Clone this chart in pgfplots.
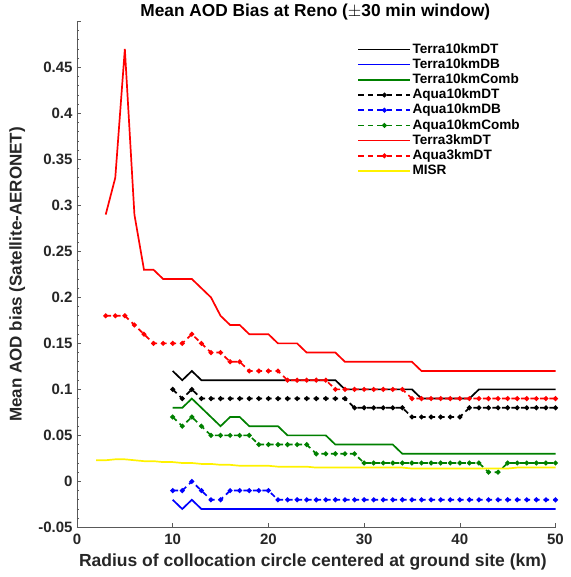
\documentclass[border=0pt]{standalone}
\usepackage{fontspec}
\setmainfont{Liberation Sans}
\usepackage{pgfplots}
\pgfplotsset{compat=1.18}
\definecolor{mgreen}{rgb}{0,0.5,0}
\definecolor{axgray}{gray}{0.35}
\begin{document}
\begin{tikzpicture}
\begin{axis}[
  scale only axis, width=478.5pt, height=506pt,
  xmin=0, xmax=50, ymin=-0.05, ymax=0.5,
  axis x line*=bottom, axis y line*=left,
  axis line style={axgray, line width=0.6pt},
  tick align=inside, major tick length=4pt, minor tick length=2.5pt,
  every tick/.style={axgray, line width=0.6pt},
  xtick={0,10,20,30,40,50},
  xticklabels={0,10,20,30,40,50},
  ytick={-0.05,0,0.05,0.1,0.15,0.2,0.25,0.3,0.35,0.4,0.45,0.5},
  yticklabels={-0.05,0,0.05,0.1,0.15,0.2,0.25,0.3,0.35,0.4,0.45,{}},
  minor y tick num=4,
  tick label style={font=\bfseries\fontsize{15}{18}\selectfont, text=black!85},
  xticklabel style={yshift=-3pt},
  yticklabel style={xshift=-1pt},
  xlabel={Radius of collocation circle centered at ground site (km)},
  ylabel={Mean AOD bias (Satellite-AERONET)},
  title={Mean AOD Bias at Reno ($\pm$30 min window)},
  every axis x label/.style={at={(axis description cs:0.493,-0.068)}, anchor=center, font=\bfseries\fontsize{17.5}{20}\selectfont, text=black!85},
  every axis y label/.style={at={(axis description cs:-0.125,0.5)}, rotate=90, anchor=center, font=\bfseries\fontsize{17}{20}\selectfont, text=black!85},
  every axis title/.style={at={(axis description cs:0.498,1.019)}, anchor=center, font=\bfseries\fontsize{17.3}{20}\selectfont},
  legend style={draw=none, fill=none, at={(axis cs:29.3,0.478)}, anchor=north west,
    font=\bfseries\fontsize{13.6}{16}\selectfont, row sep=0pt, inner sep=0pt,
    nodes={inner sep=1.2pt, text height=10pt, text depth=2.8pt},
    /tikz/every even column/.append style={column sep=8pt}},
  legend cell align=left,
  legend image code/.code={\draw[mark repeat=2,mark phase=2,#1] plot coordinates {(0pt,0pt) (26pt,0pt) (52pt,0pt)};},
  clip=false,
]
% Terra10kmDT
\addplot[black, line width=1.7pt] coordinates {(10,0.12)(11,0.11)(12,0.12)(13,0.11)(14,0.11)(15,0.11)(16,0.11)(17,0.11)(18,0.11)(19,0.11)(20,0.11)(21,0.11)(22,0.11)(23,0.11)(24,0.11)(25,0.11)(26,0.11)(27,0.11)(28,0.10)(29,0.10)(30,0.10)(31,0.10)(32,0.10)(33,0.10)(34,0.10)(35,0.10)(36,0.09)(37,0.09)(38,0.09)(39,0.09)(40,0.09)(41,0.09)(42,0.10)(43,0.10)(44,0.10)(45,0.10)(46,0.10)(47,0.10)(48,0.10)(49,0.10)(50,0.10)};
\addlegendentry{Terra10kmDT}
% Terra10kmDB
\addplot[blue, line width=1.7pt] coordinates {(10,-0.02)(11,-0.03)(12,-0.02)(13,-0.03)(14,-0.03)(15,-0.03)(16,-0.03)(17,-0.03)(18,-0.03)(19,-0.03)(20,-0.03)(21,-0.03)(22,-0.03)(23,-0.03)(24,-0.03)(25,-0.03)(26,-0.03)(27,-0.03)(28,-0.03)(29,-0.03)(30,-0.03)(31,-0.03)(32,-0.03)(33,-0.03)(34,-0.03)(35,-0.03)(36,-0.03)(37,-0.03)(38,-0.03)(39,-0.03)(40,-0.03)(41,-0.03)(42,-0.03)(43,-0.03)(44,-0.03)(45,-0.03)(46,-0.03)(47,-0.03)(48,-0.03)(49,-0.03)(50,-0.03)};
\addlegendentry{Terra10kmDB}
% Terra10kmComb
\addplot[mgreen, line width=1.7pt] coordinates {(10,0.08)(11,0.08)(12,0.09)(13,0.08)(14,0.07)(15,0.06)(16,0.07)(17,0.07)(18,0.06)(19,0.06)(20,0.06)(21,0.06)(22,0.05)(23,0.05)(24,0.05)(25,0.05)(26,0.05)(27,0.04)(28,0.04)(29,0.04)(30,0.04)(31,0.04)(32,0.04)(33,0.04)(34,0.03)(35,0.03)(36,0.03)(37,0.03)(38,0.03)(39,0.03)(40,0.03)(41,0.03)(42,0.03)(43,0.03)(44,0.03)(45,0.03)(46,0.03)(47,0.03)(48,0.03)(49,0.03)(50,0.03)};
\addlegendentry{Terra10kmComb}
% Aqua10kmDT
\addplot[black, line width=1.7pt, dash pattern=on 5.5pt off 4pt, mark=*, mark size=1.5pt, mark options={solid}] coordinates {(10,0.10)(11,0.09)(12,0.10)(13,0.09)(14,0.09)(15,0.09)(16,0.09)(17,0.09)(18,0.09)(19,0.09)(20,0.09)(21,0.09)(22,0.09)(23,0.09)(24,0.09)(25,0.09)(26,0.09)(27,0.09)(28,0.09)(29,0.08)(30,0.08)(31,0.08)(32,0.08)(33,0.08)(34,0.08)(35,0.07)(36,0.07)(37,0.07)(38,0.07)(39,0.07)(40,0.07)(41,0.08)(42,0.08)(43,0.08)(44,0.08)(45,0.08)(46,0.08)(47,0.08)(48,0.08)(49,0.08)(50,0.08)};
\addlegendentry{Aqua10kmDT}
% Aqua10kmDB
\addplot[blue, line width=1.7pt, dash pattern=on 5.5pt off 4pt, mark=*, mark size=1.5pt, mark options={solid}] coordinates {(10,-0.01)(11,-0.01)(12,0.00)(13,-0.01)(14,-0.02)(15,-0.02)(16,-0.01)(17,-0.01)(18,-0.01)(19,-0.01)(20,-0.01)(21,-0.02)(22,-0.02)(23,-0.02)(24,-0.02)(25,-0.02)(26,-0.02)(27,-0.02)(28,-0.02)(29,-0.02)(30,-0.02)(31,-0.02)(32,-0.02)(33,-0.02)(34,-0.02)(35,-0.02)(36,-0.02)(37,-0.02)(38,-0.02)(39,-0.02)(40,-0.02)(41,-0.02)(42,-0.02)(43,-0.02)(44,-0.02)(45,-0.02)(46,-0.02)(47,-0.02)(48,-0.02)(49,-0.02)(50,-0.02)};
\addlegendentry{Aqua10kmDB}
% Aqua10kmComb
\addplot[mgreen, line width=1.7pt, dash pattern=on 5.5pt off 4pt, mark=*, mark size=1.5pt, mark options={solid}] coordinates {(10,0.07)(11,0.06)(12,0.07)(13,0.06)(14,0.05)(15,0.05)(16,0.05)(17,0.05)(18,0.05)(19,0.04)(20,0.04)(21,0.04)(22,0.04)(23,0.04)(24,0.04)(25,0.03)(26,0.03)(27,0.03)(28,0.03)(29,0.03)(30,0.02)(31,0.02)(32,0.02)(33,0.02)(34,0.02)(35,0.02)(36,0.02)(37,0.02)(38,0.02)(39,0.02)(40,0.02)(41,0.02)(42,0.02)(43,0.01)(44,0.01)(45,0.02)(46,0.02)(47,0.02)(48,0.02)(49,0.02)(50,0.02)};
\addlegendentry{Aqua10kmComb}
% Terra3kmDT
\addplot[red, line width=1.7pt] coordinates {(3,0.29)(4,0.33)(5,0.47)(6,0.29)(7,0.23)(8,0.23)(9,0.22)(10,0.22)(11,0.22)(12,0.22)(13,0.21)(14,0.20)(15,0.18)(16,0.17)(17,0.17)(18,0.16)(19,0.16)(20,0.16)(21,0.15)(22,0.15)(23,0.15)(24,0.14)(25,0.14)(26,0.14)(27,0.14)(28,0.13)(29,0.13)(30,0.13)(31,0.13)(32,0.13)(33,0.13)(34,0.13)(35,0.13)(36,0.12)(37,0.12)(38,0.12)(39,0.12)(40,0.12)(41,0.12)(42,0.12)(43,0.12)(44,0.12)(45,0.12)(46,0.12)(47,0.12)(48,0.12)(49,0.12)(50,0.12)};
\addlegendentry{Terra3kmDT}
% Aqua3kmDT
\addplot[red, line width=1.7pt, dash pattern=on 5.5pt off 4pt, mark=*, mark size=1.5pt, mark options={solid}] coordinates {(3,0.18)(4,0.18)(5,0.18)(6,0.17)(7,0.16)(8,0.15)(9,0.15)(10,0.15)(11,0.15)(12,0.16)(13,0.15)(14,0.14)(15,0.14)(16,0.13)(17,0.13)(18,0.12)(19,0.12)(20,0.12)(21,0.12)(22,0.11)(23,0.11)(24,0.11)(25,0.11)(26,0.11)(27,0.10)(28,0.10)(29,0.10)(30,0.10)(31,0.10)(32,0.10)(33,0.10)(34,0.10)(35,0.09)(36,0.09)(37,0.09)(38,0.09)(39,0.09)(40,0.09)(41,0.09)(42,0.09)(43,0.09)(44,0.09)(45,0.09)(46,0.09)(47,0.09)(48,0.09)(49,0.09)(50,0.09)};
\addlegendentry{Aqua3kmDT}
% MISR
\addplot[yellow, line width=1.7pt] coordinates {(2,0.023)(3,0.023)(4,0.024)(5,0.024)(6,0.023)(7,0.022)(8,0.022)(9,0.021)(10,0.021)(11,0.020)(12,0.020)(13,0.019)(14,0.019)(15,0.018)(16,0.018)(17,0.017)(18,0.017)(19,0.017)(20,0.017)(21,0.016)(22,0.016)(23,0.016)(24,0.016)(25,0.015)(26,0.015)(27,0.015)(28,0.015)(29,0.015)(30,0.015)(31,0.015)(32,0.015)(33,0.015)(34,0.015)(35,0.014)(36,0.014)(37,0.014)(38,0.014)(39,0.014)(40,0.014)(41,0.014)(42,0.014)(43,0.014)(44,0.014)(45,0.014)(46,0.015)(47,0.015)(48,0.015)(49,0.015)(50,0.015)};
\addlegendentry{MISR}
\end{axis}
\pgfresetboundingbox
\path[use as bounding box] (-77pt,-49.6pt) rectangle (493pt,527.4pt);
\end{tikzpicture}
\end{document}
